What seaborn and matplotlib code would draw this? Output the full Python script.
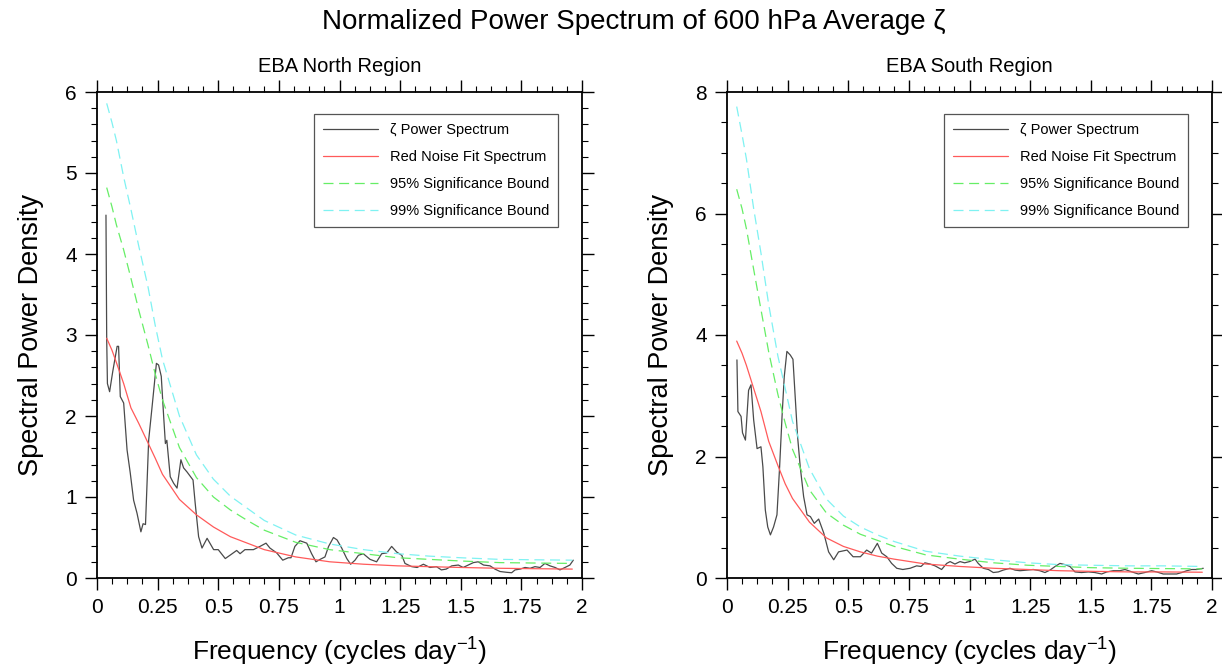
import numpy as np
import matplotlib
matplotlib.use("Agg")
import matplotlib.pyplot as plt
import seaborn as sns
from matplotlib.ticker import MultipleLocator, FixedLocator

# ---------------- data ----------------
x_ticks = [0, 0.25, 0.5, 0.75, 1, 1.25, 1.5, 1.75, 2]
x_tick_labels = ["0", "0.25", "0.5", "0.75", "1", "1.25", "1.5", "1.75", "2"]

series_labels = ["\u03b6 Power Spectrum", "Red Noise Fit Spectrum",
                 "95% Significance Bound", "99% Significance Bound"]
panel_titles = ["EBA North Region", "EBA South Region"]

# smooth curves
fit_freq = [0.04, 0.062, 0.08, 0.11, 0.14, 0.172, 0.21, 0.24, 0.27, 0.34, 0.41,
            0.48, 0.55, 0.62, 0.69, 0.82, 0.96, 1.10, 1.24, 1.37, 1.50, 1.66,
            1.80, 1.96]

red_north = [2.96, 2.81, 2.66, 2.40, 2.10, 1.91, 1.67, 1.48, 1.28, 0.97, 0.78,
             0.63, 0.51, 0.43, 0.35, 0.26, 0.20, 0.17, 0.15, 0.14, 0.13, 0.12,
             0.115, 0.11]
sig95_north = [4.82, 4.58, 4.36, 4.05, 3.70, 3.31, 2.88, 2.52, 2.20, 1.61, 1.24,
               1.00, 0.84, 0.71, 0.59, 0.44, 0.35, 0.30, 0.25, 0.23, 0.21, 0.19,
               0.185, 0.18]
sig99_north = [5.86, 5.62, 5.40, 4.95, 4.55, 4.10, 3.60, 3.12, 2.70, 2.00, 1.52,
               1.22, 1.01, 0.86, 0.71, 0.53, 0.42, 0.35, 0.30, 0.27, 0.25, 0.23,
               0.225, 0.22]

red_south = [3.90, 3.70, 3.50, 3.12, 2.74, 2.25, 1.85, 1.55, 1.31, 0.92, 0.66,
             0.52, 0.43, 0.36, 0.31, 0.23, 0.19, 0.16, 0.14, 0.12, 0.11, 0.10,
             0.10, 0.095]
sig95_south = [6.40, 6.08, 5.75, 5.08, 4.42, 3.72, 3.02, 2.55, 2.12, 1.45, 1.07,
               0.87, 0.72, 0.62, 0.52, 0.38, 0.31, 0.25, 0.21, 0.19, 0.17, 0.16,
               0.155, 0.15]
sig99_south = [7.76, 7.30, 6.90, 6.08, 5.35, 4.50, 3.65, 3.12, 2.58, 1.80, 1.30,
               1.02, 0.84, 0.71, 0.60, 0.44, 0.36, 0.30, 0.25, 0.22, 0.21, 0.20,
               0.20, 0.19]

# raw spectra
freq_north = [0.037, 0.040, 0.043, 0.052, 0.065, 0.083, 0.089, 0.096, 0.110, 0.124,
              0.137, 0.151, 0.165, 0.181, 0.190, 0.200, 0.213, 0.227, 0.245, 0.254,
              0.265, 0.275, 0.282, 0.288, 0.302, 0.316, 0.330, 0.346, 0.357, 0.371,
              0.396, 0.405, 0.419, 0.433, 0.454, 0.481, 0.500, 0.529, 0.548, 0.576,
              0.590, 0.610, 0.645, 0.672, 0.697, 0.713, 0.741, 0.766, 0.789, 0.800,
              0.816, 0.837, 0.865, 0.885, 0.903, 0.920, 0.940, 0.955, 0.975, 0.990,
              1.009, 1.030, 1.046, 1.064, 1.078, 1.098, 1.126, 1.153, 1.174, 1.195,
              1.215, 1.236, 1.257, 1.270, 1.298, 1.320, 1.346, 1.373, 1.400, 1.420,
              1.440, 1.463, 1.490, 1.510, 1.531, 1.552, 1.572, 1.594, 1.621, 1.641,
              1.662, 1.690, 1.710, 1.724, 1.745, 1.765, 1.786, 1.806, 1.827, 1.847,
              1.868, 1.889, 1.909, 1.930, 1.950, 1.964]
power_north = [4.48, 2.95, 2.40, 2.30, 2.55, 2.86, 2.86, 2.24, 2.16, 1.58,
               1.30, 0.96, 0.80, 0.57, 0.67, 0.66, 1.70, 2.11, 2.65, 2.63,
               2.49, 1.99, 1.66, 1.70, 1.25, 1.17, 1.11, 1.46, 1.36, 1.31,
               1.21, 0.92, 0.51, 0.37, 0.49, 0.35, 0.35, 0.24, 0.28, 0.34,
               0.30, 0.35, 0.35, 0.39, 0.43, 0.37, 0.31, 0.22, 0.25, 0.25,
               0.39, 0.46, 0.43, 0.30, 0.20, 0.23, 0.26, 0.39, 0.50, 0.47,
               0.37, 0.24, 0.17, 0.22, 0.28, 0.30, 0.23, 0.20, 0.30, 0.31,
               0.39, 0.32, 0.28, 0.18, 0.14, 0.13, 0.17, 0.13, 0.14, 0.10,
               0.11, 0.15, 0.16, 0.13, 0.16, 0.19, 0.20, 0.16, 0.15, 0.11,
               0.08, 0.07, 0.065, 0.10, 0.11, 0.13, 0.12, 0.14, 0.13, 0.18,
               0.15, 0.13, 0.10, 0.13, 0.16, 0.22]

freq_south = [0.041, 0.045, 0.058, 0.064, 0.076, 0.089, 0.099, 0.110, 0.124, 0.140,
              0.148, 0.158, 0.168, 0.179, 0.192, 0.206, 0.217, 0.227, 0.236, 0.247,
              0.261, 0.272, 0.282, 0.291, 0.302, 0.316, 0.330, 0.344, 0.360, 0.378,
              0.399, 0.419, 0.440, 0.460, 0.495, 0.520, 0.550, 0.576, 0.596, 0.620,
              0.638, 0.659, 0.679, 0.700, 0.725, 0.755, 0.782, 0.800, 0.816, 0.837,
              0.858, 0.885, 0.906, 0.920, 0.940, 0.961, 0.980, 1.000, 1.023, 1.036,
              1.057, 1.078, 1.098, 1.119, 1.139, 1.167, 1.188, 1.208, 1.236, 1.263,
              1.290, 1.311, 1.332, 1.353, 1.373, 1.394, 1.414, 1.435, 1.462, 1.490,
              1.517, 1.545, 1.566, 1.593, 1.620, 1.641, 1.670, 1.696, 1.723, 1.751,
              1.772, 1.799, 1.827, 1.854, 1.875, 1.896, 1.916, 1.937, 1.964]
power_south = [3.59, 2.74, 2.66, 2.39, 2.27, 3.09, 3.18, 2.60, 2.13, 2.16,
               1.83, 1.12, 0.84, 0.71, 0.84, 1.04, 1.83, 2.66, 3.31, 3.73,
               3.67, 3.60, 2.93, 2.33, 1.83, 1.34, 1.04, 1.01, 0.90, 0.97,
               0.74, 0.43, 0.30, 0.43, 0.46, 0.35, 0.35, 0.46, 0.41, 0.57,
               0.41, 0.35, 0.24, 0.16, 0.14, 0.16, 0.20, 0.19, 0.25, 0.23,
               0.20, 0.14, 0.24, 0.27, 0.23, 0.27, 0.25, 0.27, 0.31, 0.24,
               0.16, 0.14, 0.09, 0.10, 0.13, 0.16, 0.13, 0.12, 0.13, 0.14,
               0.12, 0.09, 0.13, 0.19, 0.24, 0.22, 0.19, 0.10, 0.09, 0.10,
               0.09, 0.066, 0.10, 0.12, 0.12, 0.14, 0.10, 0.066, 0.09, 0.12,
               0.10, 0.066, 0.066, 0.066, 0.09, 0.12, 0.14, 0.14, 0.16]

# ---------------- style ----------------
sns.set_theme(style="ticks")
plt.rcParams["font.family"] = ["Liberation Sans", "DejaVu Sans"]
plt.rcParams["mathtext.fontset"] = "custom"
plt.rcParams["mathtext.rm"] = "Liberation Sans"
plt.rcParams["mathtext.it"] = "Liberation Sans:italic"
plt.rcParams["mathtext.default"] = "regular"
for key in ["text.color", "axes.labelcolor", "xtick.color", "ytick.color",
            "axes.edgecolor"]:
    plt.rcParams[key] = "black"

fig = plt.figure(figsize=(12.22, 6.70), dpi=100)
W, H = 1222.0, 670.0
ax_n = fig.add_axes([97 / W, (H - 578) / H, 485 / W, 486 / H])
ax_s = fig.add_axes([727 / W, (H - 578) / H, 485 / W, 486 / H])

colors = ["#4a4a4a", "#ff5a5a", "#66ee66", "#7ff2f2"]
dash = (0, (8, 4.5))

panels = [
    (ax_n, freq_north, power_north, red_north, sig95_north, sig99_north, 6, 1, 0.2, panel_titles[0]),
    (ax_s, freq_south, power_south, red_south, sig95_south, sig99_south, 8, 2, 0.5, panel_titles[1]),
]

for ax, fq, pw, rd, s95, s99, ymax, ymaj, ymin, ttl in panels:
    sns.lineplot(x=fq, y=pw, ax=ax, color=colors[0], lw=0.9, estimator=None,
                 sort=False, label=series_labels[0])
    sns.lineplot(x=fit_freq, y=rd, ax=ax, color=colors[1], lw=0.9, estimator=None,
                 sort=False, label=series_labels[1])
    sns.lineplot(x=fit_freq, y=s95, ax=ax, color=colors[2], lw=0.9, estimator=None,
                 sort=False, label=series_labels[2], linestyle=dash)
    sns.lineplot(x=fit_freq, y=s99, ax=ax, color=colors[3], lw=0.9, estimator=None,
                 sort=False, label=series_labels[3], linestyle=dash)

    ax.set_xlim(0, 2)
    ax.set_ylim(0, ymax)
    ax.xaxis.set_major_locator(FixedLocator(x_ticks))
    ax.set_xticklabels(x_tick_labels)
    ax.xaxis.set_minor_locator(MultipleLocator(0.0625))
    ax.yaxis.set_major_locator(MultipleLocator(ymaj))
    ax.yaxis.set_minor_locator(MultipleLocator(ymin))

    ax.tick_params(which="both", direction="out", top=True, right=True,
                   labeltop=False, labelright=False, color="black", labelsize=15)
    ax.tick_params(which="major", length=8.5, width=1.0, pad=6)
    ax.tick_params(which="minor", length=4.3, width=0.8)
    for sp in ax.spines.values():
        sp.set_visible(True)
        sp.set_linewidth(1.3)
        sp.set_color("black")

    ax.set_xlabel("Frequency (cycles day$^{-1}$)", fontsize=19)
    ax.set_ylabel("Spectral Power Density", fontsize=19.5)
    ax.xaxis.label.set_va("center")
    ax.yaxis.label.set_va("center")
    ax.xaxis.set_label_coords(0.5, -0.153)
    ax.yaxis.set_label_coords(-0.136, 0.5)

    ax.text(0.5, 1 + 25 / 486, ttl, transform=ax.transAxes, ha="center",
            va="center", fontsize=14.5)

    leg = ax.legend(loc="upper left", bbox_to_anchor=(0.447, 0.954),
                    fontsize=10.5, handlelength=3.8, handletextpad=0.8,
                    labelspacing=0.9, borderpad=0.6, borderaxespad=0,
                    fancybox=False, framealpha=1, edgecolor="#555555")
    leg.get_frame().set_linewidth(0.9)

fig.text(634 / W, 1 - 22 / H, "Normalized Power Spectrum of 600 hPa Average \u03b6",
         ha="center", va="center", fontsize=20)

fig.savefig("out.png", dpi=100, facecolor="white")
